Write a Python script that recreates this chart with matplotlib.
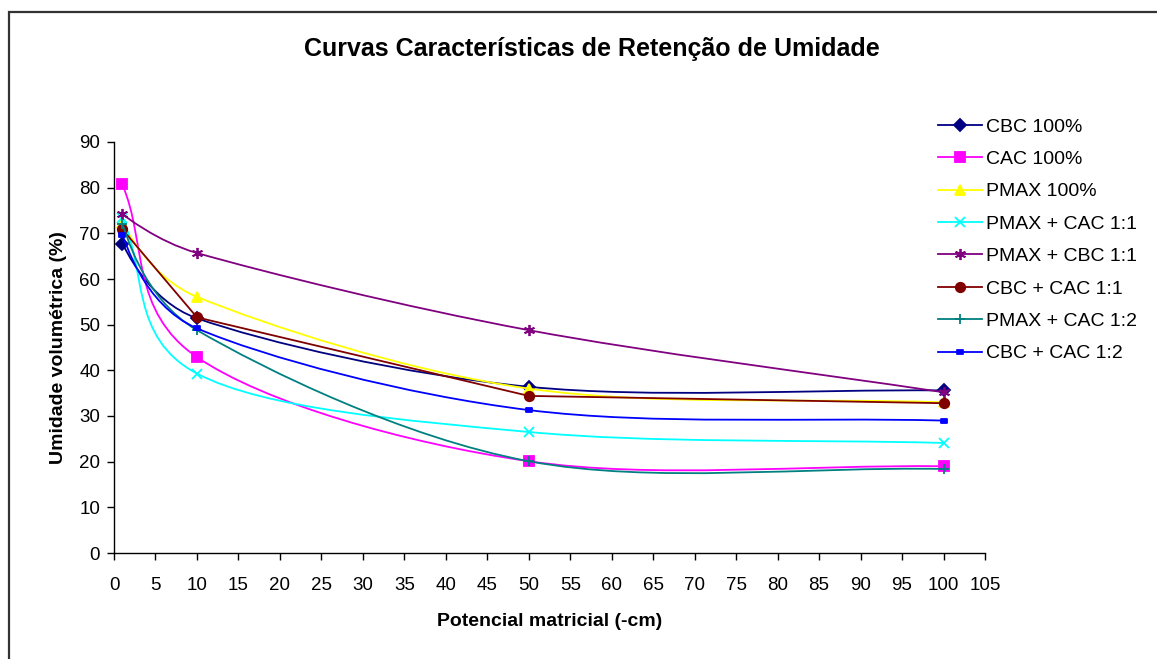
import numpy as np
import matplotlib
matplotlib.use("Agg")
import matplotlib.pyplot as plt
from matplotlib.path import Path
from matplotlib.patches import PathPatch, Rectangle
from matplotlib.lines import Line2D

plt.rcParams['font.family'] = ['Liberation Sans', 'DejaVu Sans']

# ---------------- data ----------------
x_vals = [1, 10, 50, 100]
series_names = ["CBC 100%", "CAC 100%", "PMAX 100%", "PMAX + CAC 1:1",
                "PMAX + CBC 1:1", "CBC + CAC 1:1", "PMAX + CAC 1:2", "CBC + CAC 1:2"]
cbc_100 = [67.7, 51.4, 36.4, 35.6]
cac_100 = [80.7, 42.9, 20.1, 19.0]
pmax_100 = [72.3, 56.1, 36.0, 33.0]
pmax_cac_11 = [73.3, 39.3, 26.5, 24.1]
pmax_cbc_11 = [74.2, 65.7, 48.8, 35.2]
cbc_cac_11 = [70.9, 51.6, 34.4, 32.8]
pmax_cac_12 = [72.0, 48.8, 20.1, 18.4]
cbc_cac_12 = [69.6, 49.2, 31.3, 29.0]
all_series = [cbc_100, cac_100, pmax_100, pmax_cac_11,
              pmax_cbc_11, cbc_cac_11, pmax_cac_12, cbc_cac_12]

colors = ["#000080", "#FF00FF", "#FFFF00", "#00FFFF",
          "#800080", "#800000", "#008080", "#0000FF"]
dash_marker = Path([(-1, -0.5), (1, -0.5), (1, 0.5), (-1, 0.5), (-1, -0.5)],
                   [Path.MOVETO, Path.LINETO, Path.LINETO, Path.LINETO, Path.CLOSEPOLY])
markers = ["D", "s", "^", "x", (6, 2, 0), "o", "+", dash_marker]
msizes = [6.5, 6.5, 7.5, 7, 8, 6.8, 7.5, 4.5]
smooth = [True, True, True, True, True, False, True, True]

# ---------------- figure ----------------
W, H = 1157, 659
fig = plt.figure(figsize=(W / 100, H / 100), dpi=100)
fig.patches.append(Rectangle((9 / W, -0.01), 1.02, 1 - 12 / H + 0.01, transform=fig.transFigure,
                             fill=False, edgecolor="#333333", linewidth=1.6))

ax = fig.add_axes([114 / W, 1 - 553 / H, (985 - 114) / W, (553 - 142) / H])
ax.set_xlim(0, 105)
ax.set_ylim(0, 90)
ax.set_xticks(np.arange(0, 106, 5))
ax.set_yticks(np.arange(0, 91, 10))
for s in ["top", "right"]:
    ax.spines[s].set_visible(False)
for s in ["left", "bottom"]:
    ax.spines[s].set_color("#000000")
    ax.spines[s].set_linewidth(1.0)
ax.tick_params(direction="out", length=5, width=1, labelsize=13.5)
ax.tick_params(axis="x", pad=12)
ax.tick_params(axis="y", pad=5)
ax.set_xlabel("Potencial matricial (-cm)", fontsize=14, fontweight="bold", labelpad=14)
ax.set_ylabel("Umidade volumétrica (%)", fontsize=14, fontweight="bold", labelpad=9)
fig.text(592 / W, 1 - 49 / H, "Curvas Características de Retenção de Umidade",
         ha="center", va="center", fontsize=18, fontweight="bold")


def excel_bezier_path(xs, ys):
    """Excel-style smoothed curve: cubic Bezier segments computed in display space."""
    P = ax.transData.transform(np.column_stack([xs, ys]))
    n = len(P)
    verts = [P[0]]
    codes = [Path.MOVETO]
    for i in range(n - 1):
        p0 = P[i - 1] if i > 0 else P[i]
        p1 = P[i]
        p2 = P[i + 1]
        p3 = P[i + 2] if i + 2 < n else P[i + 1]
        d02 = np.hypot(*(p2 - p0))
        d12 = np.hypot(*(p2 - p1))
        d13 = np.hypot(*(p3 - p1))
        if d02 / 6 < d12 / 2 and d13 / 6 < d12 / 2:
            f0 = 1 / 6 if i > 0 else 1 / 3
            f1 = 1 / 6 if i + 2 < n else 1 / 3
            b1 = p1 + (p2 - p0) * f0
            b2 = p2 - (p3 - p1) * f1
        elif d02 / 6 >= d12 / 2 and d13 / 6 >= d12 / 2:
            b1 = p1 + (p2 - p0) * d12 / 2 / d02
            b2 = p2 - (p3 - p1) * d12 / 2 / d13
        elif d02 / 6 >= d12 / 2:
            b1 = p1 + (p2 - p0) * d12 / 2 / d02
            b2 = p2 - (p3 - p1) * d12 / 2 / d13 * (d13 / d02)
        else:
            b1 = p1 + (p2 - p0) * d12 / 2 / d13 * (d02 / d13)
            b2 = p2 - (p3 - p1) * d12 / 2 / d13
        verts += [b1, b2, p2]
        codes += [Path.CURVE4] * 3
    inv = ax.transData.inverted()
    return Path(inv.transform(np.array(verts)), codes)


LW = 1.3
handles = []
for i, ys in enumerate(all_series):
    c = colors[i]
    if smooth[i]:
        path = excel_bezier_path(x_vals, ys)
        ax.add_patch(PathPatch(path, fill=False, edgecolor=c, linewidth=LW,
                               zorder=2 + i * 0.1, clip_on=False))
        ax.plot(x_vals, ys, linestyle="none", marker=markers[i], markersize=msizes[i],
                color=c, markeredgecolor=c, markeredgewidth=1.3, zorder=2.05 + i * 0.1,
                clip_on=False)
    else:
        ax.plot(x_vals, ys, linestyle="-", linewidth=LW, marker=markers[i],
                markersize=msizes[i], color=c, markeredgecolor=c, markeredgewidth=1.3,
                zorder=2 + i * 0.1, clip_on=False)
    handles.append(Line2D([], [], color=c, linewidth=LW, marker=markers[i],
                          markersize=msizes[i], markeredgecolor=c, markeredgewidth=1.3))

leg = fig.legend(handles, series_names, loc="upper left",
                 bbox_to_anchor=(938 / W, 1 - 118 / H), frameon=False,
                 fontsize=14, handlelength=2.25, handletextpad=0.2,
                 labelspacing=0.76, borderaxespad=0, borderpad=0)

fig.savefig("out.png", dpi=100)
